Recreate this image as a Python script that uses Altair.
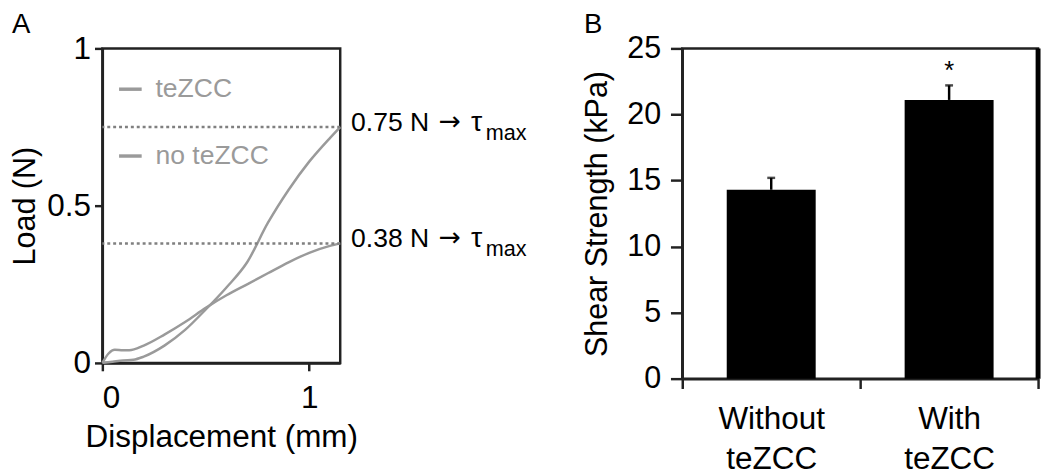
import altair as alt
import pandas as pd

FONT = "Liberation Sans"

# ---- Panel A data: load–displacement curves
disp_te = [0.0, 0.05, 0.1, 0.15, 0.2, 0.3, 0.4, 0.5, 0.6, 0.7, 0.8, 0.9, 1.0, 1.1, 1.15]
load_te = [0.0, 0.004, 0.008, 0.01, 0.02, 0.055, 0.105, 0.17, 0.24, 0.32, 0.445, 0.55, 0.64, 0.715, 0.75]
disp_no = [0.0, 0.03, 0.06, 0.1, 0.13, 0.2, 0.3, 0.4, 0.5, 0.6, 0.7, 0.8, 0.9, 1.0, 1.1, 1.15]
load_no = [0.0, 0.03, 0.042, 0.04, 0.04, 0.055, 0.09, 0.13, 0.175, 0.215, 0.25, 0.285, 0.32, 0.35, 0.372, 0.38]
series_names = ["teZCC", "no teZCC"]
peak_loads = [0.75, 0.38]
peak_values = ["0.75 N", "0.38 N"]

# ---- Panel B data: shear strength
groups = ["Without teZCC", "With teZCC"]
strength = [14.3, 21.1]
strength_err = [0.9, 1.1]
sig_marks = ["", "*"]
sig_pos = [23.6, 23.6]

curves = pd.concat([
    pd.DataFrame({"d": disp_te, "L": load_te, "series": series_names[0]}),
    pd.DataFrame({"d": disp_no, "L": load_no, "series": series_names[1]}),
])
peaks = pd.DataFrame({"L": peak_loads, "label": peak_values,
                      "arrow": ["\u2192"] * 2, "tau": ["\u03c4"] * 2, "sub": ["max"] * 2})
bars_df = pd.DataFrame({
    "group": groups,
    "value": strength,
    "upper": [v + e for v, e in zip(strength, strength_err)],
    "sig": sig_marks,
    "sigy": sig_pos,
})

WA, HA = 242, 320
WB, HB = 362, 336

xa = alt.X("d:Q", scale=alt.Scale(domain=[0, 1.15], nice=False),
           axis=alt.Axis(values=[0, 1], format="~g", title="Displacement (mm)", tickSize=8,
                         labelPadding=12, titlePadding=9, labelFontSize=32, titleFontSize=32))
ya = alt.Y("L:Q", scale=alt.Scale(domain=[0, 1], nice=False),
           axis=alt.Axis(values=[0, 0.5, 1], format="~g", title="Load (N)", tickSize=8,
                         labelPadding=4, titlePadding=6, labelFontSize=32, titleFontSize=31))

lines = alt.Chart(curves).mark_line(strokeWidth=2.5, interpolate="monotone").encode(
    x=xa, y=ya,
    color=alt.Color("series:N", sort=series_names,
                    scale=alt.Scale(domain=series_names, range=["#9a9a9a", "#9a9a9a"]),
                    legend=alt.Legend(orient="none", legendX=15, legendY=28, title=None,
                                      symbolType="stroke", symbolSize=529, symbolStrokeWidth=3.5,
                                      labelFontSize=27, labelColor="#9a9a9a", labelFont=FONT,
                                      labelOffset=12, rowPadding=40, padding=0)),
)
dotted = alt.Chart(peaks).mark_rule(strokeDash=[3, 3], color="#808080", strokeWidth=2.5).encode(
    y=alt.Y("L:Q"))
ann = alt.Chart(peaks).mark_text(align="left", baseline="alphabetic", dx=11, dy=4,
                                 fontSize=27, font=FONT, color="black").encode(
    y=alt.Y("L:Q"), x=alt.value(WA), text="label:N")
ann_arrow = alt.Chart(peaks).mark_text(align="left", baseline="alphabetic", dx=100, dy=3,
                                       fontSize=27, font="DejaVu Sans", color="black").encode(
    y=alt.Y("L:Q"), x=alt.value(WA), text="arrow:N")
ann_tau = alt.Chart(peaks).mark_text(align="left", baseline="alphabetic", dx=133, dy=4,
                                     fontSize=29, font=FONT, color="black").encode(
    y=alt.Y("L:Q"), x=alt.value(WA), text="tau:N")
ann_sub = alt.Chart(peaks).mark_text(align="left", baseline="alphabetic", dx=148, dy=13,
                                     fontSize=22, font=FONT, color="black").encode(
    y=alt.Y("L:Q"), x=alt.value(WA), text="sub:N")
letA = alt.Chart(pd.DataFrame({"t": ["A"]})).mark_text(
    align="left", baseline="alphabetic", fontSize=28, font=FONT, color="black").encode(
    x=alt.value(-92), y=alt.value(-16), text="t:N")

panelA = alt.layer(lines, dotted, ann, ann_arrow, ann_tau, ann_sub, letA).properties(width=WA, height=HA)

xb = alt.X("group:N", sort=groups, scale=alt.Scale(paddingInner=0, paddingOuter=0),
           axis=alt.Axis(title=None, labelAngle=0, tickBand="extent", tickSize=10,
                         labelExpr="split(datum.label, ' ')", labelLineHeight=40,
                         labelPadding=16, labelFontSize=32))
yb = alt.Y("value:Q", scale=alt.Scale(domain=[0, 25], nice=False),
           axis=alt.Axis(values=[0, 5, 10, 15, 20, 25], title="Shear Strength (kPa)",
                         tickSize=12, labelPadding=10, titlePadding=14))

bars = alt.Chart(bars_df).mark_bar(color="black", width=alt.RelativeBandSize(0.5)).encode(x=xb, y=yb)
errs = alt.Chart(bars_df).mark_rule(color="black", strokeWidth=2.5).encode(
    x=xb, y=alt.Y("value:Q"), y2="upper:Q")
caps = alt.Chart(bars_df).mark_tick(color="black", thickness=2.5, size=8).encode(
    x=xb, y=alt.Y("upper:Q"))
stars = alt.Chart(bars_df).mark_text(fontSize=26, font=FONT, color="black", baseline="middle", dy=4).encode(
    x=xb, y=alt.Y("sigy:Q"), text="sig:N")
right_edge = alt.Chart(pd.DataFrame({"t": [1]})).mark_rule(color="black", strokeWidth=5).encode(
    x=alt.value(WB), y=alt.value(0), y2=alt.value(HB))
letB = alt.Chart(pd.DataFrame({"t": ["B"]})).mark_text(
    align="left", baseline="alphabetic", fontSize=28, font=FONT, color="black").encode(
    x=alt.value(-100), y=alt.value(-16), text="t:N")

panelB = alt.layer(bars, errs, caps, stars, right_edge, letB).properties(width=WB, height=HB)

chart = alt.hconcat(panelA, panelB, spacing=53).properties(
    padding={"top": -3, "left": 0, "right": 0, "bottom": 0}, background="white"
).configure_view(
    stroke="#222", strokeWidth=2.5
).configure_axis(
    grid=False, domainColor="#222", domainWidth=2.5, tickColor="#222", tickWidth=2.5,
    labelFont=FONT, labelFontSize=31, labelColor="black",
    titleFont=FONT, titleFontSize=31, titleFontWeight="normal", titleColor="black",
)

chart.save("out.html", embed_options={"renderer": "svg", "actions": False})
